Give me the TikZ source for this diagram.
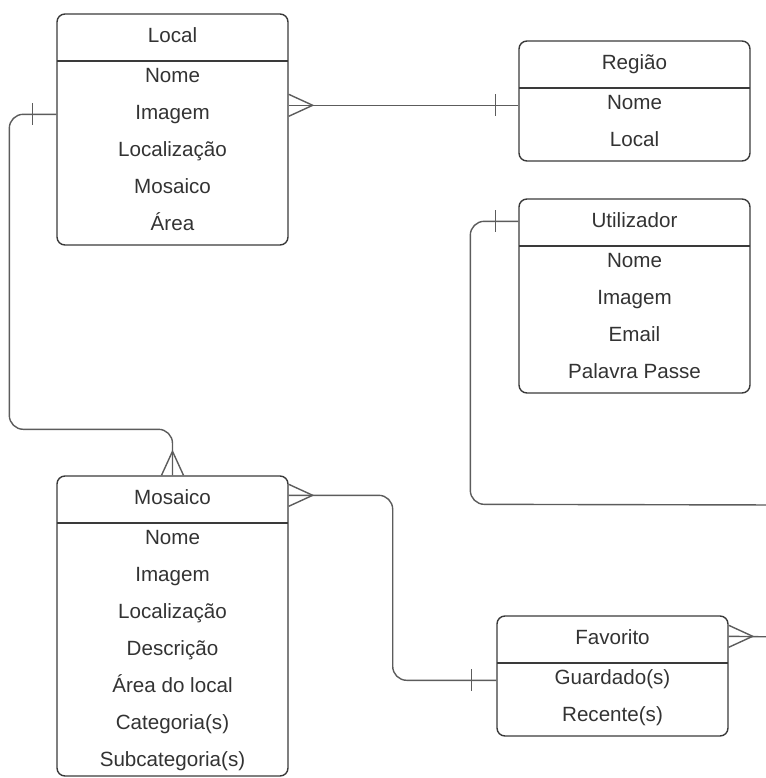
\documentclass[tikz,border=0pt]{standalone}
\usepackage{fontspec}
\setmainfont{Liberation Sans}
\usetikzlibrary{calc}
\definecolor{traco}{HTML}{3A3A3A}
\definecolor{ligacao}{HTML}{5C5C5C}
\definecolor{texto}{HTML}{333333}
\tikzset{caixa/.style={draw=traco,line width=0.7pt,rounded corners=4pt,minimum width=115.5pt,inner sep=0pt},
  rotulo/.style={font=\fontsize{10.3}{12}\selectfont,text=texto,inner sep=0pt,text height=7.4pt,text depth=0pt},
  ligacao/.style={draw=ligacao,line width=0.7pt}}
% #1 nome, #2 x esquerda, #3 y topo, #4 altura, #5 titulo, #6 campos
\newcommand{\entidade}[6]{%
  \node[caixa,minimum height={0.5pt*#4}] (#1) at ({#2+115.5},{#3+#4/2}) {};
  \draw[traco,line width=0.7pt] ({#2},{#3+47}) -- ({#2+231},{#3+47});
  \node[rotulo] (#1-titulo) at ({#2+115.5},{#3+21}) {#5};
  \foreach \campo [count=\i] in {#6}
    \node[rotulo] (#1-\i) at ({#2+115.5},{#3+24+37*\i}) {\campo};}

\begin{document}
\begin{tikzpicture}[x=0.5pt,y=-0.5pt]
  \useasboundingbox (0,0) rectangle (766,778);
  \clip (0,0) rectangle (766,778);
  \entidade{local}{57}{14}{231}{Local}{Nome,Imagem,Localização,Mosaico,Área}
  \entidade{regiao}{519}{41}{120}{Região}{Nome,Local}
  \entidade{utilizador}{519}{199}{194}{Utilizador}{Nome,Imagem,Email,Palavra Passe}
  \entidade{mosaico}{57}{476}{300}{Mosaico}{Nome,Imagem,Localização,Descrição,Área do local,Categoria(s),Subcategoria(s)}
  \entidade{favorito}{497}{616}{120}{Favorito}{Guardado(s),Recente(s)}
  % pontos de ligacao
  \coordinate (localR) at ($(local.north east)+(0,92)$);
  \coordinate (localL) at ($(local.north west)+(0,101)$);
  \coordinate (regiaoL) at ($(regiao.north west)+(0,65)$);
  \coordinate (mosaicoR) at ($(mosaico.north east)+(0,20)$);
  \coordinate (favoritoL) at ($(favorito.north west)+(0,65)$);
  \coordinate (favoritoR) at ($(favorito.north east)+(0,21)$);
  \coordinate (utilizadorL) at ($(utilizador.north west)+(0,23)$);
  % Local - Regiao
  \draw[ligacao] (localR) -- (regiaoL);
  \draw[ligacao] ($(localR)+(0,-11)$) -- ($(localR)+(24,0)$) -- ($(localR)+(0,11)$);
  \draw[ligacao] ($(regiaoL)+(-23,-11)$) -- ($(regiaoL)+(-23,11)$);
  % Local - Mosaico
  \draw[ligacao,rounded corners=7pt] (localL) -- ++(-47,0) |- ($(mosaico.north)+(0,-46)$) -- (mosaico.north);
  \draw[ligacao] ($(localL)+(-24,-11)$) -- ($(localL)+(-24,11)$);
  \draw[ligacao] ($(mosaico.north)+(-11,0)$) -- ($(mosaico.north)+(0,-24)$) -- ($(mosaico.north)+(11,0)$);
  % Mosaico - Favorito
  \draw[ligacao,rounded corners=7pt] (mosaicoR) -- ++(104,0) |- (favoritoL);
  \draw[ligacao] ($(mosaicoR)+(0,-11)$) -- ($(mosaicoR)+(24,0)$) -- ($(mosaicoR)+(0,11)$);
  \draw[ligacao] ($(favoritoL)+(-25,-11)$) -- ($(favoritoL)+(-25,11)$);
  % Utilizador - Favorito
  \draw[ligacao,rounded corners=7pt] (utilizadorL) -- ++(-48,0) -- ++(0,283) -- (782,505) -- (782,637) -- (favoritoR);
  \draw[ligacao] ($(utilizadorL)+(-23,-11)$) -- ($(utilizadorL)+(-23,11)$);
  \draw[ligacao] ($(favoritoR)+(0,-11)$) -- ($(favoritoR)+(24,0)$) -- ($(favoritoR)+(0,11)$);
\end{tikzpicture}
\end{document}
